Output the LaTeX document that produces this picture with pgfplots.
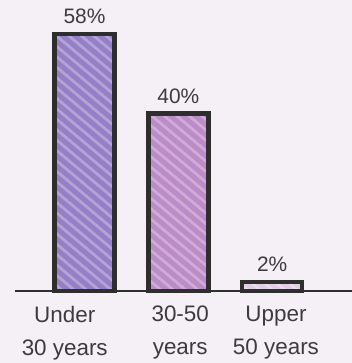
\documentclass[border=0pt]{standalone}
\usepackage{fontspec}
\setmainfont{Liberation Sans}
\usepackage{pgfplots}
\pgfplotsset{compat=1.18}
\usetikzlibrary{patterns.meta}
\definecolor{bg}{HTML}{F4F0F5}
\definecolor{ink}{HTML}{2E2E2E}
\definecolor{txt}{HTML}{3C3C3C}
\definecolor{barA}{HTML}{9580C8}
\definecolor{barB}{HTML}{BC8CC8}
\definecolor{barC}{HTML}{E2CDE6}

\begin{document}
\begin{tikzpicture}[x=1bp,y=1bp]
\fill[bg] (0,0) rectangle (352,363);
\path[use as bounding box] (0,0) rectangle (352,363);
\begin{axis}[
  at={(15bp,72bp)}, anchor=south west,
  scale only axis, width=337bp, height=266bp,
  xmin=-0.74, xmax=2.85, ymin=0, ymax=60,
  axis x line=bottom, axis y line=none,
  x axis line style={line width=2.5bp, draw=ink, -},
  ytick=\empty,
  xtick={-0.21,1.02,2.04},
  xticklabels={Under\\30 years, 30-50\\years, Upper\\50 years},
  xticklabel style={align=center, font=\fontsize{22.5}{33}\selectfont,
    text=txt, inner sep=0pt, yshift=-15bp},
  major tick length=0pt,
  ybar, bar width=60bp, bar shift=0pt,
  clip=false,
  /pgf/number format/assume math mode=true,
  nodes near coords={\pgfmathprintnumber{\pgfplotspointmeta}\%},
  nodes near coords style={font=\fontsize{21}{24}\selectfont, text=txt,
    inner sep=0pt, yshift=10bp},
  % sketchy fill: coloured body, lighter diagonal strokes, then a heavy outline
  sketch bar/.style={draw=none,
    preaction={fill=#1},
    pattern={Lines[angle=-40,distance=8pt,line width=2.5pt]},
    pattern color=#1!72!white,
    postaction={draw=ink, line width=4.5bp}},
]
\addplot[sketch bar=barA] coordinates {(0,58)};
\addplot[sketch bar=barB] coordinates {(1,40)};
\addplot[sketch bar=barC] coordinates {(2,2)};
\end{axis}
\end{tikzpicture}
\end{document}
